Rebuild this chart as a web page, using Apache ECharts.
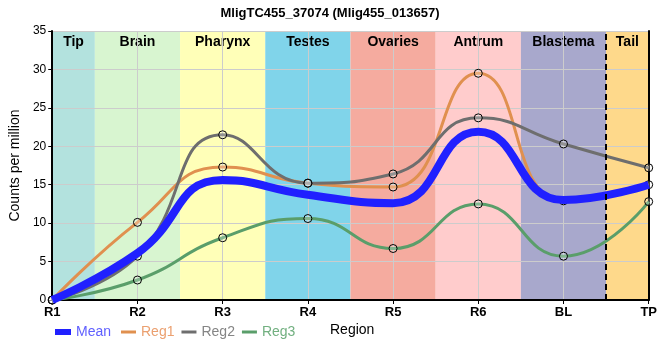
<!DOCTYPE html>
<html><head><meta charset="utf-8">
<script src="https://cdn.jsdelivr.net/npm/echarts@6/dist/echarts.min.js"></script>
<style>html,body{margin:0;padding:0;background:#fff}#c{width:660px;height:360px}</style>
</head><body><div id="c"></div>
<script>
const categories = ['R1','R2','R3','R4','R5','R6','BL','TP'];
const meanVals = [0, 6.1, 15.6, 13.7, 12.6, 21.9, 13.0, 15.0];
const reg1Vals = [0, 10.1, 17.3, 15.2, 14.7, 29.5, 12.9, 15.0];
const reg2Vals = [0, 5.7, 21.5, 15.2, 16.4, 23.7, 20.3, 17.2];
const reg3Vals = [0, 2.6, 8.1, 10.6, 6.7, 12.5, 5.7, 12.8];
const regionNames = ['Tip','Brain','Pharynx','Testes','Ovaries','Antrum','Blastema','Tail'];
const regionColors = ['#b3e2de','#d8f5d0','#ffffb8','#80d4ea','#f5ab9f','#ffcccc','#a8a8cc','#fed98b'];
const yTicks = [0,5,10,15,20,25,30,35];

const font = '"Liberation Sans", Arial, sans-serif';
const toPairs = a => a.map((v,i)=>[i,v]);
const nCat = categories.length;

const bands = regionNames.map((n,i)=>[
  {name:n, xAxis: Math.max(0,i-0.5), itemStyle:{color:regionColors[i]}},
  {xAxis: Math.min(nCat-1,i+0.5)}
]);

const marker = {symbol:'circle', symbolSize:8};
const mk = {color:'rgba(255,255,255,0.25)', borderColor:'#000', borderWidth:1};

const chart = echarts.init(document.getElementById('c'), null, {renderer:'canvas'});
chart.setOption({
  animation:false,
  textStyle:{fontFamily:font},
  title:{text:'MligTC455_37074 (Mlig455_013657)', left:'center', top:2,
    textStyle:{fontSize:13, fontWeight:'bold', color:'#000', fontFamily:font}},
  grid:{left:50, right:10, top:31, bottom:60},
  legend:[
    {data:[{name:'Mean', icon:'rect', itemStyle:{color:'#2020ff', borderWidth:0}, textStyle:{color:'#6060ff'}}],
     left:50, top:320, itemWidth:16, itemHeight:6, itemGap:10,
     textStyle:{fontSize:14, fontFamily:font}},
    {data:[
      {name:'Reg1', icon:'rect', itemStyle:{color:'#e0904f', borderWidth:0}, textStyle:{color:'#eba070'}},
      {name:'Reg2', icon:'rect', itemStyle:{color:'#6e6e6e', borderWidth:0}, textStyle:{color:'#858585'}},
      {name:'Reg3', icon:'rect', itemStyle:{color:'#5a9e6a', borderWidth:0}, textStyle:{color:'#72b080'}}],
     left:116, top:320, itemWidth:15, itemHeight:3, itemGap:7,
     textStyle:{fontSize:14, fontFamily:font}},
  ],
  graphic:[{type:'text', left:330, top:323, style:{text:'Region', fontSize:14, fill:'#000', fontFamily:font}}],
  xAxis:{type:'value', min:0, max:nCat-1, interval:1, z:2,
    axisLine:{show:true, onZero:false, lineStyle:{color:'#000', width:2}},
    axisTick:{show:true, length:4, lineStyle:{color:'#000'}},
    axisLabel:{formatter:v=>categories[v] ?? '', color:'#000', fontSize:13, fontWeight:'bold', fontFamily:font, margin:6},
    splitLine:{show:true, lineStyle:{color:'#cccccc', width:1}}},
  yAxis:[
    {type:'value', min:yTicks[0], max:yTicks[yTicks.length-1], interval:5, z:2,
     name:'Counts per million', nameLocation:'middle', nameGap:23,
     nameTextStyle:{fontSize:14, color:'#000', fontFamily:font},
     axisLine:{show:true, lineStyle:{color:'#000', width:2}},
     axisTick:{show:true, length:4, lineStyle:{color:'#000'}},
     axisLabel:{color:'#000', fontSize:12, fontFamily:font, margin:6},
     splitLine:{show:true, lineStyle:{color:'#cccccc', width:1}}},
    {type:'value', position:'right', min:0, max:35, z:2,
     axisLine:{show:true, lineStyle:{color:'#000', width:2}},
     axisTick:{show:false}, axisLabel:{show:false}, splitLine:{show:false}}
  ],
  series:[
    {name:'bands', type:'line', data:[], z:1, silent:true,
     markArea:{silent:true, data:bands,
       label:{show:true, position:'insideTop', distance:4, color:'#000', fontSize:14, fontWeight:'bold', fontFamily:font}},
     markLine:{silent:true, symbol:'none', label:{show:false},
       lineStyle:{color:'#000', type:[6,4], width:2},
       data:[{xAxis:(nCat-2)+0.5}]}},
    {name:'Reg1', type:'line', z:3, smooth:0.5, data:toPairs(reg1Vals), ...marker,
     lineStyle:{color:'#e0904f', width:3}, itemStyle:mk},
    {name:'Reg2', type:'line', z:3, smooth:0.5, data:toPairs(reg2Vals), ...marker,
     lineStyle:{color:'#6e6e6e', width:3}, itemStyle:mk},
    {name:'Reg3', type:'line', z:3, smooth:0.5, data:toPairs(reg3Vals), ...marker,
     lineStyle:{color:'#5a9e6a', width:3}, itemStyle:mk},
    {name:'Mean', type:'line', z:4, smooth:0.5, data:toPairs(meanVals), symbol:'none',
     lineStyle:{color:'#2020ff', width:8}, itemStyle:{color:'#2020ff'}}
  ]
});
</script></body></html>
